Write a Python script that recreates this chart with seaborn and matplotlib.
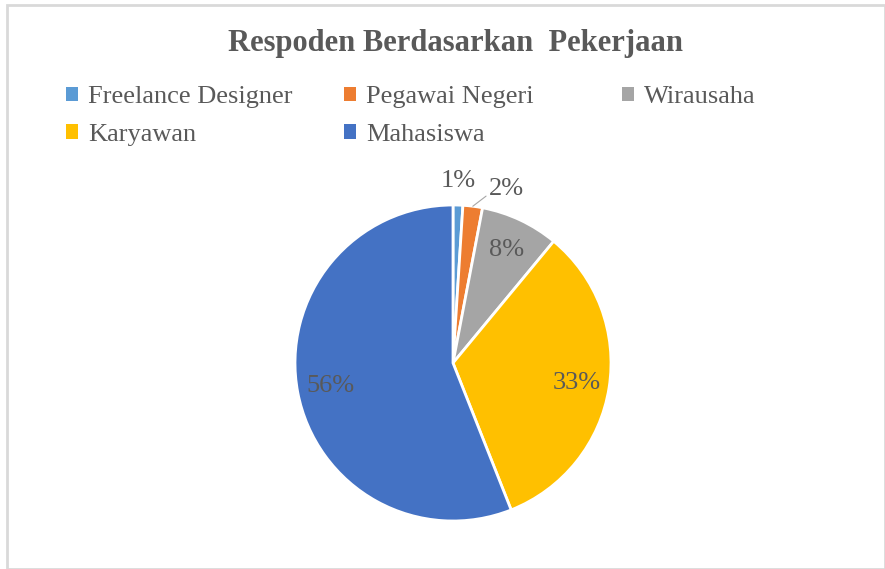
import matplotlib
matplotlib.use("Agg")
import matplotlib.pyplot as plt
import matplotlib.patches as mpatches
import numpy as np
import seaborn as sns

# data
jobs = ["Freelance Designer", "Pegawai Negeri", "Wirausaha", "Karyawan", "Mahasiswa"]
shares = [1, 2, 8, 33, 56]
colors = ["#5B9BD5", "#ED7D31", "#A5A5A5", "#FFC000", "#4472C4"]
title = "Respoden Berdasarkan  Pekerjaan"

sns.set_theme(style="white")
plt.rcParams["font.family"] = ["Liberation Serif", "DejaVu Serif"]
text_grey = "#595959"

fig = plt.figure(figsize=(8.85, 5.69), dpi=100)
fig.patch.set_facecolor("white")

# chart frame
fig.patches.append(mpatches.Rectangle((7 / 885, 0), 1 - 7 / 885, 1 - 5 / 569,
                                      transform=fig.transFigure, fill=False,
                                      edgecolor="#d9d9d9", linewidth=2))

fig.text(455 / 885, 1 - 43 / 569, title, ha="center", va="center",
         fontsize=22, fontweight="bold", color=text_grey)

# pie
cx, cy, r = 453, 363, 158
ax = fig.add_axes([(cx - r) / 885, (569 - cy - r) / 569, 2 * r / 885, 2 * r / 569])
wedges = ax.pie(shares, colors=sns.color_palette(colors), startangle=90,
                counterclock=False, radius=1.0,
                wedgeprops=dict(edgecolor="white", linewidth=2))[0]
ax.set_xlim(-1, 1)
ax.set_ylim(-1, 1)
ax.set_aspect("auto")
ax.axis("off")

total = sum(shares)
for i, (w, v) in enumerate(zip(wedges, shares)):
    mid = np.deg2rad((w.theta1 + w.theta2) / 2)
    lbl = f"{v / total * 100:.0f}%"
    if i == 0:
        ax.text(1.15 * np.cos(mid), 1.15 * np.sin(mid), lbl, ha="center", va="center",
                fontsize=19, color=text_grey, clip_on=False)
    elif i == 1:
        ax.annotate(lbl, xy=(1.0 * np.cos(mid), 1.0 * np.sin(mid)),
                    xytext=(0.23, 1.10), ha="left", va="center",
                    fontsize=19, color=text_grey, annotation_clip=False,
                    arrowprops=dict(arrowstyle="-", color="#a6a6a6", lw=0.8,
                                    shrinkA=0, shrinkB=0, relpos=(0, 0.3)))
    else:
        d = 0.79
        ax.text(d * np.cos(mid), d * np.sin(mid), lbl, ha="center", va="center",
                fontsize=19, color=text_grey)

# legend: three columns like the Excel layout
handles = [mpatches.Patch(facecolor=c, edgecolor="none") for c in colors]
cols = [[0, 3], [1, 4], [2]]
xs = [66 / 885, 344 / 885, 622 / 885]
for x, idx in zip(xs, cols):
    fig.legend([handles[i] for i in idx], [jobs[i] for i in idx],
               loc="upper left", bbox_to_anchor=(x, 1 - 86 / 569),
               frameon=False, fontsize=19, labelcolor=text_grey,
               handlelength=0.45, handleheight=0.45, handletextpad=0.4,
               labelspacing=0.6, borderpad=0, borderaxespad=0)

fig.savefig("out.png", dpi=100, facecolor="white")
